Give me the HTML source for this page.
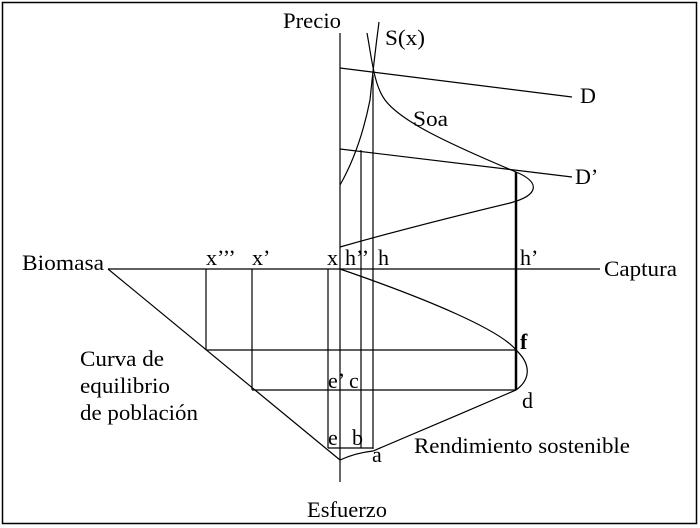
<!DOCTYPE html>
<html><head><style>body{margin:0;background:#fff}svg{display:block}text{font-family:"Liberation Serif",serif;font-size:22px;fill:#000}</style></head><body>
<svg width="700" height="528" viewBox="0 0 700 528" xmlns="http://www.w3.org/2000/svg">
<rect x="2.5" y="2.5" width="694" height="521" fill="none" stroke="#000" stroke-width="1.5"/>
<g stroke="#000" stroke-width="1.2" fill="none">
<line x1="340" y1="33" x2="340" y2="482"/>
<line x1="108" y1="269" x2="600" y2="269"/>
<line x1="108" y1="269" x2="340" y2="460"/>
<line x1="340" y1="68" x2="572" y2="97"/>
<line x1="340" y1="149" x2="572" y2="177"/>
<line x1="206" y1="269" x2="206" y2="350"/>
<line x1="252" y1="269" x2="252" y2="390"/>
<line x1="328" y1="269" x2="328" y2="448"/>
<line x1="361" y1="150" x2="361" y2="448"/>
<line x1="373" y1="75" x2="373" y2="449"/>
<line x1="328" y1="448" x2="373" y2="448"/>
<line x1="206" y1="350" x2="516" y2="350"/>
<line x1="252" y1="390" x2="516" y2="390"/>
<line x1="516" y1="172" x2="516" y2="390" stroke-width="2.5"/>
<path d="M340 185 Q360 150 370 100 Q374 60 379 22"/>
<path d="M367 33 C372 60,374 85,385 100 C400 120,440 140,516 172 C540 182,540 195,510 203 C460 215,400 230,340 247"/>
<path d="M340 269 C430 300,500 330,516 350 C532 365,530 380,516 390 C470 410,410 435,373 451 Q355 453 340 460"/>
</g>
<text x="283" y="28" textLength="58" lengthAdjust="spacingAndGlyphs">Precio</text>
<text x="385" y="45" textLength="40" lengthAdjust="spacingAndGlyphs">S(x)</text>
<text x="580" y="103">D</text>
<text x="413" y="126" textLength="35" lengthAdjust="spacingAndGlyphs">Soa</text>
<text x="575" y="184">D’</text>
<text x="22" y="270" textLength="82" lengthAdjust="spacingAndGlyphs">Biomasa</text>
<text x="206" y="265">x’’’</text>
<text x="252" y="265">x’</text>
<text x="327" y="265">x</text>
<text x="345" y="265">h’’</text>
<text x="378" y="265">h</text>
<text x="520" y="265">h’</text>
<text x="604" y="276" textLength="73" lengthAdjust="spacingAndGlyphs">Captura</text>
<text x="80" y="366" textLength="84" lengthAdjust="spacingAndGlyphs">Curva de</text>
<text x="80" y="393" textLength="90" lengthAdjust="spacingAndGlyphs">equilibrio</text>
<text x="80" y="420" textLength="118" lengthAdjust="spacingAndGlyphs">de población</text>
<text x="328" y="388">e’ c</text>
<text x="328" y="445">e</text>
<text x="352" y="445">b</text>
<text x="372" y="462">a</text>
<text x="520" y="349" font-weight="bold">f</text>
<text x="522" y="408">d</text>
<text x="414" y="453" textLength="216" lengthAdjust="spacingAndGlyphs">Rendimiento sostenible</text>
<text x="307" y="517" textLength="80" lengthAdjust="spacingAndGlyphs">Esfuerzo</text>
</svg>
</body></html>
